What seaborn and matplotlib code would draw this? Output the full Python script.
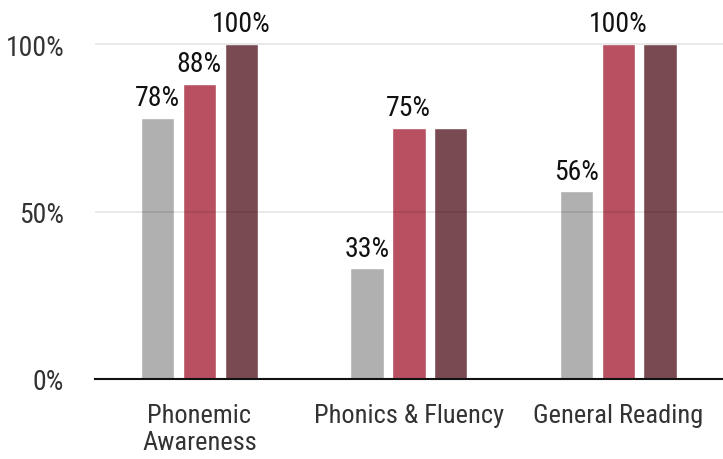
import matplotlib
matplotlib.use("Agg")
import matplotlib.pyplot as plt
from matplotlib import font_manager
import seaborn as sns
import pandas as pd

categories = ["Phonemic\nAwareness", "Phonics & Fluency", "General Reading"]
series = ["Baseline", "Mid-year", "End of year"]
baseline = [78, 33, 56]
midyear = [88, 75, 100]
endyear = [100, 75, 100]
# which bars carry a value label (per series, per category)
show_label = {
    "Baseline": [True, True, True],
    "Mid-year": [True, True, True],
    "End of year": [True, False, False],
}
colors = ["#b0b0b0", "#b85062", "#7a4a52"]
yticks = [0, 50, 100]

installed = {f.name for f in font_manager.fontManager.ttflist}
fam = [f for f in ["Roboto Condensed", "Liberation Sans Narrow", "Roboto", "DejaVu Sans"] if f in installed]

sns.set_theme(style="white")
plt.rcParams["font.family"] = fam

df = pd.DataFrame({
    "category": categories * 3,
    "series": [s for s in series for _ in categories],
    "value": baseline + midyear + endyear,
})

fig = plt.figure(figsize=(7.23, 4.60), dpi=100)
ax = fig.add_axes([0.131, 0.174, 0.869, 0.826])
sns.barplot(data=df, x="category", y="value", hue="series", palette=colors,
            width=0.6, gap=0.2, ax=ax, legend=False, saturation=1, zorder=2)

for container, s in zip(ax.containers, series):
    for bar, show, v in zip(container, show_label[s], df[df.series == s].value):
        if show:
            ax.annotate(f"{v}%", (bar.get_x() + bar.get_width() / 2, bar.get_height()),
                        xytext=(0, 5), textcoords="offset points",
                        ha="center", va="bottom", fontsize=20, color="#111111")

for y in yticks[1:]:
    ax.axhline(y, color="#000000", alpha=0.1, lw=1.2, zorder=3)

ax.set_ylim(0, 113.5)
ax.set_xlim(-0.5, 2.5)
ax.set_yticks(yticks)
ax.set_yticklabels([f"{t}%" for t in yticks])
ax.tick_params(axis="y", length=0, pad=22, labelsize=20, labelcolor="#333333")
ax.tick_params(axis="x", length=0, pad=17, labelsize=19, labelcolor="#333333")
for lbl in ax.get_xticklabels():
    lbl.set_linespacing(1.2)
ax.set_xlabel("")
ax.set_ylabel("")
for side in ["left", "right", "top"]:
    ax.spines[side].set_visible(False)
ax.spines["bottom"].set_color("#111111")
ax.spines["bottom"].set_linewidth(1.5)
ax.spines["bottom"].set_zorder(4)

fig.savefig("out.png", dpi=100)
